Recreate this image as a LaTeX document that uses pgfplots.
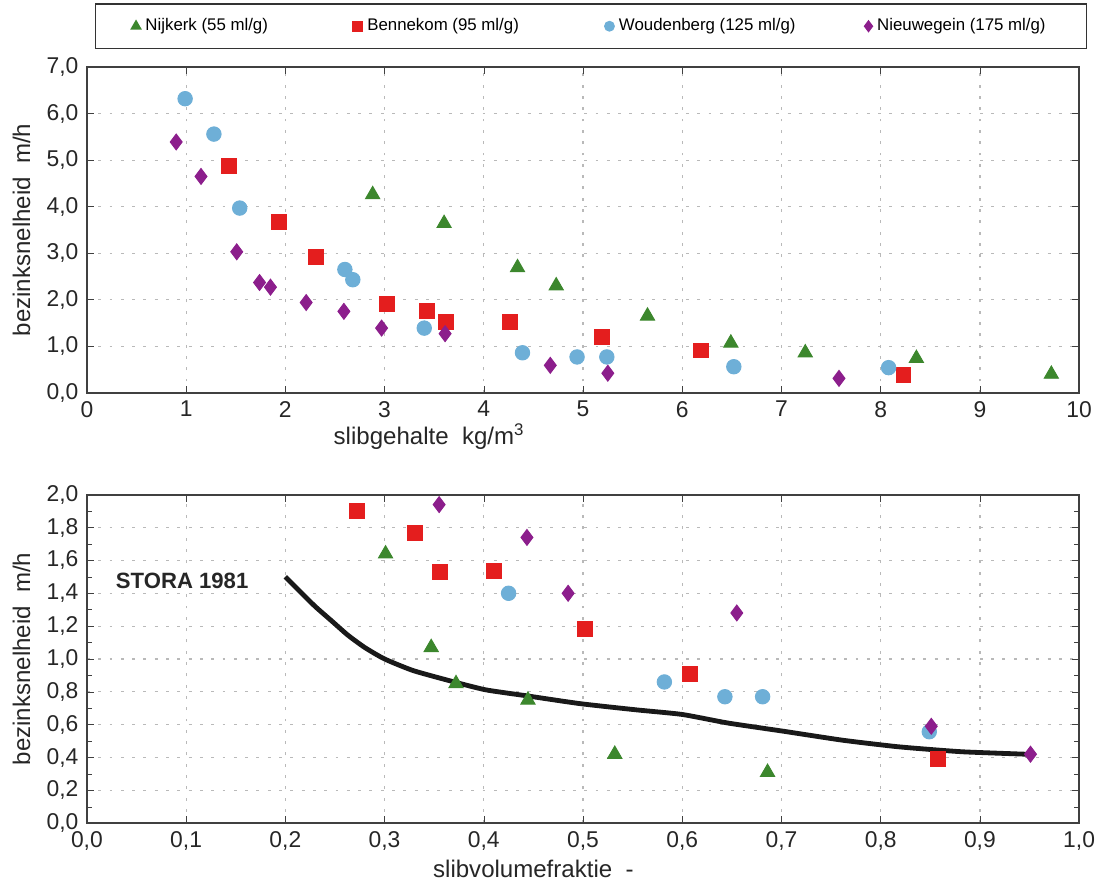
\documentclass[border=0pt]{standalone}
\usepackage{pgfplots}
\pgfplotsset{compat=1.18}
\usepackage{fontspec}
\setmainfont{Liberation Sans}
\definecolor{cgreen}{RGB}{60,135,45}
\definecolor{cred}{RGB}{228,30,30}
\definecolor{cblue}{RGB}{110,175,215}
\definecolor{cpurple}{RGB}{140,30,140}
\pgfplotsset{
  common/.style={
    scale only axis, width=14.5cm,
    /pgf/number format/assume math mode=true,
    tick label style={font=\fontsize{9.5}{10}\selectfont, text=black!85},
    label style={font=\fontsize{10}{12}\selectfont, text=black!85},
    grid=major,
    major grid style={gray!55, dash pattern=on 1.2pt off 3.5pt, line width=0.5pt},
    axis line style={black!75, line width=0.7pt}, tick style={black!75},
    major tick length=3pt, minor tick length=2pt,
  },
  pg/.style={only marks, mark=triangle*, mark size=3.4pt, color=cgreen},
  pr/.style={only marks, mark=square*, mark size=3.1pt, color=cred},
  pb/.style={only marks, mark=*, mark size=3pt, color=cblue},
  pp/.style={only marks, mark=diamond*, mark size=3.3pt, color=cpurple},
}
\begin{document}
\begin{tikzpicture}
\path (0,0) rectangle (16cm,-12.8cm);
\begin{axis}[common, height=4.76cm, at={(1.27cm,-5.74cm)}, anchor=south west,
  xmin=0, xmax=10, ymin=0, ymax=7,
  xtick={0,1,...,10}, ytick={0,1,...,7},
  y tick label style={/pgf/number format/.cd, fixed, fixed zerofill, precision=1, use comma},
  xlabel={slibgehalte\ \ kg/m\textsuperscript{3}},
  ylabel={bezinksnelheid\ \ m/h},
  x label style={at={(axis description cs:0.345,-0.07)}, anchor=north},
  y label style={at={(axis description cs:-0.066,0.5)}, anchor=center},
  legend columns=4,
  legend style={at={(axis description cs:0.508,1)}, anchor=south, yshift=0.26cm,
    draw=black!80, line width=0.6pt, font=\fontsize{7}{9}\selectfont,
    inner xsep=15pt, inner ysep=4pt},
  legend image post style={scale=0.65},
]
\addplot[pg] coordinates {(2.88,4.26) (3.60,3.64) (4.34,2.69) (4.73,2.30) (5.65,1.65) (6.49,1.07) (7.24,0.86) (8.36,0.74) (9.72,0.40)};
\addlegendentry{\makebox[2.96cm][l]{Nijkerk (55 ml/g)}}
\addplot[pr] coordinates {(1.43,4.87) (1.94,3.68) (2.31,2.91) (3.02,1.90) (3.43,1.76) (3.62,1.53) (4.26,1.53) (5.19,1.19) (6.19,0.91) (8.23,0.39)};
\addlegendentry{\makebox[3.4cm][l]{Bennekom (95 ml/g)}}
\addplot[pb] coordinates {(0.99,6.32) (1.28,5.56) (1.54,3.97) (2.60,2.65) (2.68,2.43) (3.40,1.39) (4.39,0.86) (4.94,0.77) (5.24,0.77) (6.52,0.56) (8.08,0.54)};
\addlegendentry{\makebox[3.52cm][l]{Woudenberg (125 ml/g)}}
\addplot[pp] coordinates {(0.90,5.39) (1.15,4.65) (1.51,3.03) (1.74,2.37) (1.85,2.27) (2.21,1.94) (2.59,1.75) (2.97,1.39) (3.61,1.27) (4.67,0.59) (5.25,0.42) (7.58,0.31)};
\addlegendentry{Nieuwegein (175 ml/g)}
\end{axis}
\begin{axis}[common, height=4.80cm, at={(1.27cm,-12.03cm)}, anchor=south west,
  xmin=0, xmax=1, ymin=0, ymax=2,
  xtick={0,0.1,...,1.01}, ytick={0,0.2,...,2.01},
  minor y tick num=1,
  x tick label style={/pgf/number format/.cd, fixed, fixed zerofill, precision=1, use comma},
  y tick label style={/pgf/number format/.cd, fixed, fixed zerofill, precision=1, use comma},
  xlabel={slibvolumefraktie\ \ -},
  ylabel={bezinksnelheid\ \ m/h},
  x label style={at={(axis description cs:0.45,-0.085)}, anchor=north},
  y label style={at={(axis description cs:-0.066,0.5)}, anchor=center},
]
\addplot[black!90, line width=2pt, smooth, tension=0.35] coordinates {
(0.200,1.500) (0.215,1.410) (0.230,1.320) (0.247,1.230) (0.263,1.145) (0.280,1.070)
(0.300,1.000) (0.329,0.929) (0.369,0.862) (0.402,0.812) (0.444,0.775) (0.497,0.728)
(0.554,0.690) (0.600,0.662) (0.646,0.610) (0.702,0.560) (0.762,0.505) (0.815,0.467)
(0.850,0.449) (0.885,0.434) (0.951,0.419)};
\addplot[pg] coordinates {(0.301,1.64) (0.347,1.07) (0.372,0.85) (0.4445,0.75) (0.532,0.42) (0.686,0.31)};
\addplot[pr] coordinates {(0.272,1.90) (0.331,1.765) (0.356,1.53) (0.410,1.536) (0.502,1.18) (0.608,0.91) (0.858,0.39)};
\addplot[pb] coordinates {(0.425,1.40) (0.582,0.86) (0.643,0.77) (0.681,0.77) (0.849,0.557)};
\addplot[pp] coordinates {(0.355,1.94) (0.4435,1.74) (0.485,1.40) (0.655,1.28) (0.851,0.59) (0.951,0.42)};
\node[font=\bfseries\fontsize{9.2}{11}\selectfont, text=black!85] at (axis cs:0.096,1.475) {STORA 1981};
\end{axis}
\end{tikzpicture}
\end{document}
